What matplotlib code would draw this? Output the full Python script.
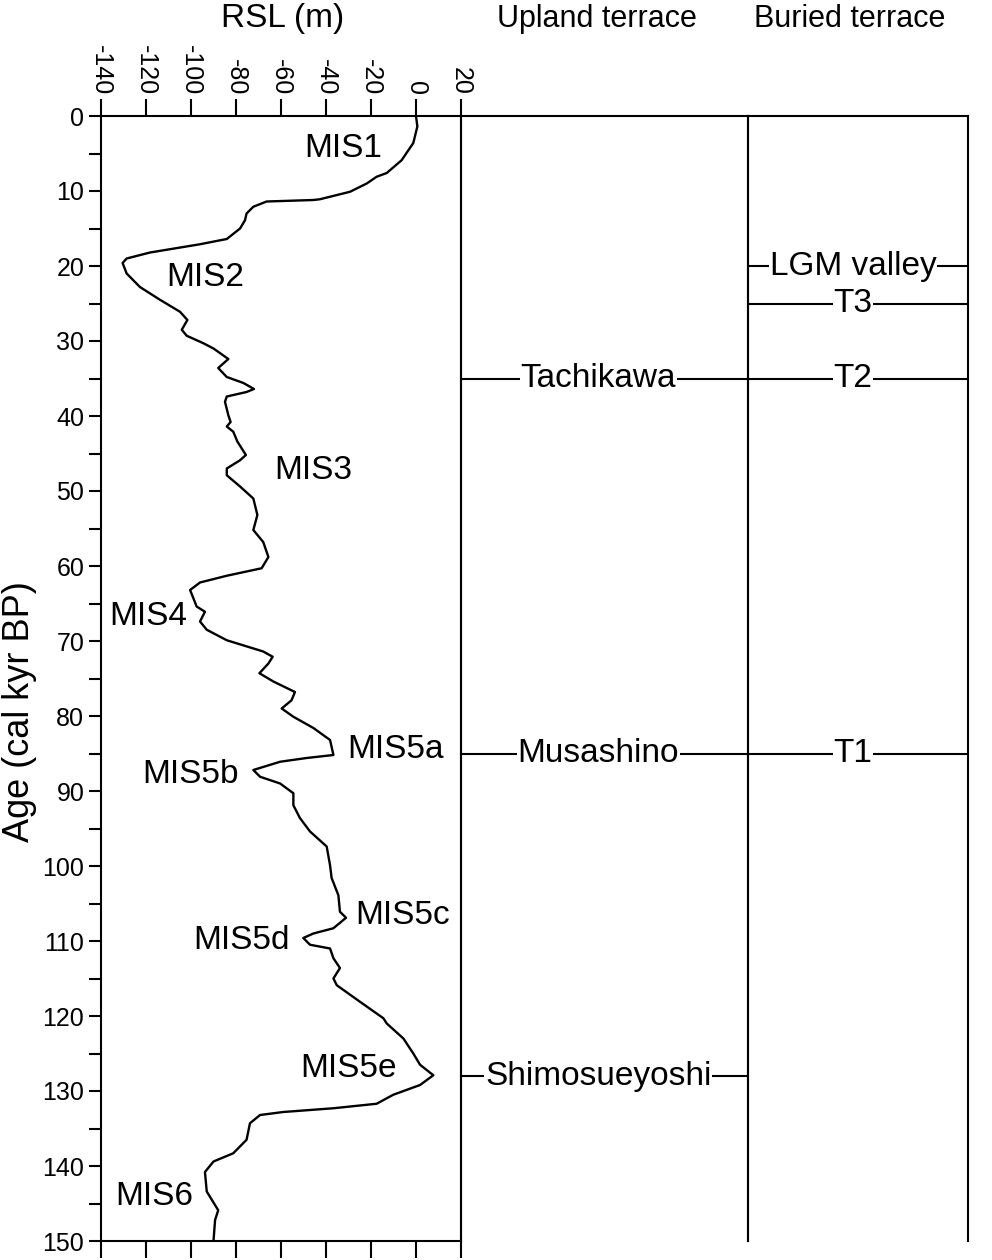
import matplotlib
matplotlib.use("Agg")
import matplotlib.pyplot as plt

plt.rcParams['font.family'] = ['Liberation Sans', 'DejaVu Sans']
plt.rcParams['axes.unicode_minus'] = False

# RSL curve (age in kyr BP, RSL in m)
age = [0.0, 1.4, 3.6, 5.9, 7.6, 8.1, 9.0, 10.1, 11.1, 11.2, 11.4, 12.1, 13.0, 13.9, 15.0,
       16.4, 17.1, 18.2, 19.0, 19.6, 21.0, 22.8, 24.5, 26.1, 27.2, 28.5, 29.3, 30.3, 31.0,
       32.4, 33.6, 34.8, 35.6, 36.4, 36.8, 37.4, 38.1, 39.9, 40.8, 41.4, 42.1, 43.4, 45.2,
       45.9, 47.0, 47.9, 49.4, 51.0, 53.2, 55.2, 56.8, 58.8, 60.3, 61.3, 62.2, 63.2, 65.4,
       66.1, 67.4, 68.5, 69.9, 71.4, 72.1, 73.0, 74.3, 75.4, 76.8, 77.9, 79.0, 80.1, 81.6,
       83.2, 85.2, 85.6, 86.1, 87.2, 88.1, 89.0, 90.3, 91.9, 93.6, 95.4, 97.4, 99.9, 101.6,
       103.9, 106.1, 106.9, 108.3, 109.0, 109.6, 110.5, 111.0, 112.3, 113.6, 115.0, 115.9,
       118.1, 120.3, 121.0, 123.0, 125.0, 126.5, 127.9, 129.2, 130.5, 131.7, 132.3, 132.8,
       133.2, 134.3, 136.5, 138.3, 139.4, 140.8, 143.4, 145.9, 147.2, 150.0]
rsl = [0.0, 0.6, -1.2, -6.4, -13.0, -17.5, -21.9, -29.3, -42.7, -45.6, -66.4, -72.3, -75.3,
       -76.0, -78.2, -84.1, -96.0, -118.2, -128.6, -130.4, -128.6, -122.7, -113.8, -104.9,
       -101.6, -104.1, -101.9, -94.5, -90.0, -83.4, -87.9, -84.1, -76.7, -72.0, -75.3, -84.1,
       -84.9, -83.4, -82.4, -84.1, -81.2, -79.4, -75.6, -78.2, -84.1, -84.1, -78.2, -72.3,
       -70.5, -72.3, -67.9, -65.6, -68.6, -84.1, -96.0, -100.4, -97.5, -93.8, -96.0, -93.0,
       -84.1, -67.9, -63.7, -65.6, -69.6, -63.4, -53.8, -55.3, -59.7, -54.5, -45.6, -38.2,
       -36.7, -48.6, -60.4, -72.3, -69.3, -60.4, -54.5, -54.5, -51.6, -47.1, -39.7, -38.2,
       -37.5, -34.5, -33.8, -31.1, -36.7, -45.6, -50.1, -47.1, -38.2, -36.7, -33.8, -36.7,
       -35.2, -24.9, -14.5, -13.0, -5.6, -1.2, 1.8, 7.7, 1.8, -10.1, -17.5, -36.7, -59.0,
       -69.3, -73.8, -75.3, -81.2, -90.0, -93.8, -93.0, -87.9, -89.3, -90.0]

# MIS labels: (text, rsl, age)
mis_text = ['MIS1', 'MIS2', 'MIS3', 'MIS4', 'MIS5a', 'MIS5b', 'MIS5c', 'MIS5d', 'MIS5e', 'MIS6']
mis_rsl = [-32.3, -93.8, -45.6, -119.0, -9.3, -100.1, -6.1, -77.5, -29.9, -116.4]
mis_age = [4.3, 21.6, 47.3, 66.7, 84.5, 87.8, 106.6, 109.9, 127.0, 144.1]

# terraces
upland_names = ['Tachikawa', 'Musashino', 'Shimosueyoshi']
upland_ages = [35, 85, 128]
buried_names = ['LGM valley', 'T3', 'T2', 'T1']
buried_ages = [20, 25, 35, 85]

W, H = 992, 1260
fig = plt.figure(figsize=(W / 100, H / 100), dpi=100)

def box(x0, x1, y0=116, y1=1241):
    return [x0 / W, 1 - y1 / H, (x1 - x0) / W, (y1 - y0) / H]

lw = 1.5

# left panel: RSL curve
ax = fig.add_axes(box(101, 461))
ax.plot(rsl, age, color='black', lw=1.7, solid_joinstyle='round')
ax.set_xlim(-140, 20)
ax.set_ylim(150, 0)
ax.set_xticks(range(-140, 21, 20))
ax.set_yticks(range(0, 151, 10))
ax.set_yticks(range(5, 150, 10), minor=True)
ax.xaxis.set_ticks_position('both')
ax.tick_params(axis='x', which='both', top=True, bottom=True, labeltop=True,
               labelbottom=False, direction='out', width=lw, labelsize=18,
               labelrotation=-90, pad=3)
ax.tick_params(axis='x', which='major', length=12)
ax.tick_params(axis='y', which='both', direction='out', width=lw, length=9,
               labelsize=18, pad=3)
for s in ax.spines.values():
    s.set_linewidth(lw)
for t, x, y in zip(mis_text, mis_rsl, mis_age):
    ax.text(x, y, t, fontsize=24, ha='center', va='center')

fig.text(283 / W, 1 - 18 / H, 'RSL (m)', fontsize=24, ha='center', va='center')
fig.text(20 / W, 1 - 712 / H, 'Age (cal kyr BP)', fontsize=26, ha='center',
         va='center', rotation=90)

def terrace_panel(x0, x1, names, ages, title, tx):
    a = fig.add_axes(box(x0, x1))
    a.set_xlim(0, 1)
    a.set_ylim(150, 0)
    a.set_xticks([])
    a.set_yticks([])
    a.patch.set_alpha(0)
    a.spines['bottom'].set_visible(False)
    for s in a.spines.values():
        s.set_linewidth(lw)
    for n, y in zip(names, ages):
        a.plot([0, 1], [y, y], color='black', lw=lw)
        a.text(tx, y, n, fontsize=24, ha='center', va='center',
               bbox=dict(facecolor='white', edgecolor='none', pad=0.5))
    fig.text((x0 + x1) / 2 / W - 0.008, 1 - 19 / H, title, fontsize=22,
             ha='center', va='center')
    return a

terrace_panel(461, 748, upland_names, upland_ages, 'Upland terrace', 0.478)
terrace_panel(748, 968, buried_names, buried_ages, 'Buried terrace', 0.478)

fig.savefig('out.png', dpi=100)
